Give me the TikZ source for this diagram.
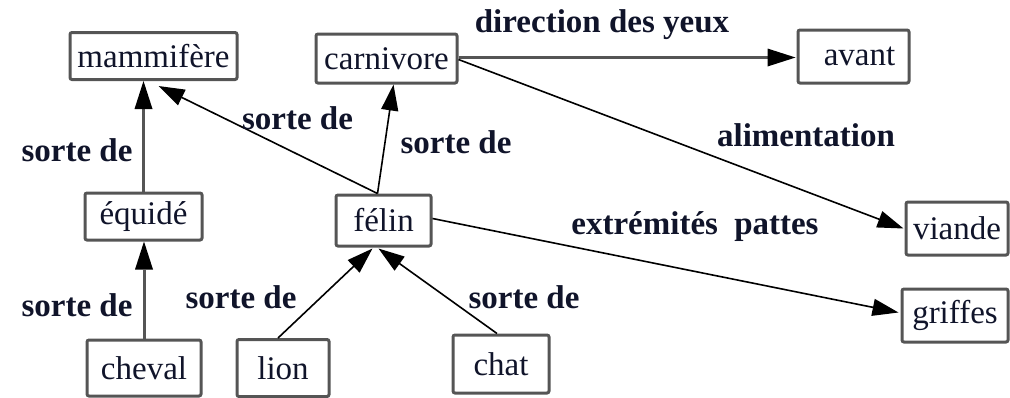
\documentclass[tikz,border=0pt]{standalone}
\usepackage{fontspec}
\setmainfont{Liberation Serif}
\usetikzlibrary{arrows.meta}
\usetikzlibrary{calc}
\definecolor{cadre}{HTML}{555555}
\definecolor{encre}{HTML}{10142A}
\tikzset{
    concept/.style={draw=cadre, line width=1.5pt, rounded corners=1pt, inner sep=0pt,
        text=encre, font=\fontsize{16.5}{20}\selectfont},
    relation/.style={text=encre, font=\fontsize{16.5}{20}\selectfont\bfseries},
    fleche/.style={-{Triangle[length=13pt,width=8.5pt]}, line width=0.8pt},
    flechegrise/.style={draw=cadre, line width=1.5pt, -{Triangle[length=14pt,width=9pt,line width=0pt,color=black]}}
}

\begin{document}
\begin{tikzpicture}[x=0.5pt, y=-0.5pt]
            \useasboundingbox (0, 0) rectangle (1010, 397);
            % concepts
            \node[concept, minimum width=83.5pt, minimum height=23.5pt] (mammifere) at (153.5, 56) {mammifère};
            \node[concept, minimum width=70.5pt, minimum height=24.5pt] (carnivore) at (386.5, 58.5) {carnivore};
            \node[concept, minimum width=55.5pt, minimum height=26.5pt] (avant) at (853.5, 56.5) {\hspace{6pt}avant};
            \node[concept, minimum width=58.5pt, minimum height=23.5pt] (equide) at (143.5, 216.5) {équidé};
            \node[concept, minimum width=47.5pt, minimum height=25.5pt] (felin) at (383.5, 220.5) {félin\hspace{8pt}};
            \node[concept, minimum width=57pt, minimum height=28pt] (cheval) at (144, 368) {cheval};
            \node[concept, minimum width=46pt, minimum height=28.5pt] (lion) at (283, 368) {lion\hspace{8pt}};
            \node[concept, minimum width=48pt, minimum height=29pt] (chat) at (501, 364) {chat};
            \node[concept, minimum width=51pt, minimum height=26.5pt] (viande) at (957, 228.5) {viande};
            \node[concept, minimum width=53pt, minimum height=26.5pt] (griffes) at (955, 315.5) {griffes};
            % liens
            \draw[flechegrise] (equide.north) -- (equide.north |- mammifere.south);
            \draw[flechegrise] (cheval.north) -- (cheval.north |- equide.south);
            \draw[fleche] ($(felin.north)+(-6, 0)$) -- ($(mammifere.south)+(5, 5)$);
            \draw[fleche] ($(felin.north)+(-6, 0)$) -- ($(carnivore.south)+(7, 0)$);
            \draw[fleche] ($(lion.north)+(-5, 0)$) -- ($(felin.south)+(-11, 1)$);
            \draw[fleche] ($(chat.north)+(-4, 0)$) -- ($(felin.south)+(-5, 1)$);
            \draw[flechegrise] ($(carnivore.east)+(0, -1)$) -- ($(avant.west)+(-1, 1)$);
            \draw[fleche] ($(carnivore.east)+(0, 1)$) -- ($(viande.west)+(-1, 0)$);
            \draw[fleche] ($(felin.east)+(0, -2)$) -- ($(griffes.west)+(-2, -3)$);
            % relations
            \node[relation] (rel1) at (77, 150) {sorte de};
            \node[relation] (rel2) at (297.5, 118) {sorte de};
            \node[relation] (rel3) at (456, 142) {sorte de};
            \node[relation] (rel4) at (77, 305) {sorte de};
            \node[relation] (rel5) at (241, 297) {sorte de};
            \node[relation] (rel6) at (524, 297) {sorte de};
            \node[relation] (rel7) at (602, 25) {direction des yeux};
            \node[relation] (rel8) at (806, 135) {alimentation};
            \node[relation] (rel9) at (695, 227) {extrémités\hspace{4pt} pattes};
        \end{tikzpicture}
\end{document}
